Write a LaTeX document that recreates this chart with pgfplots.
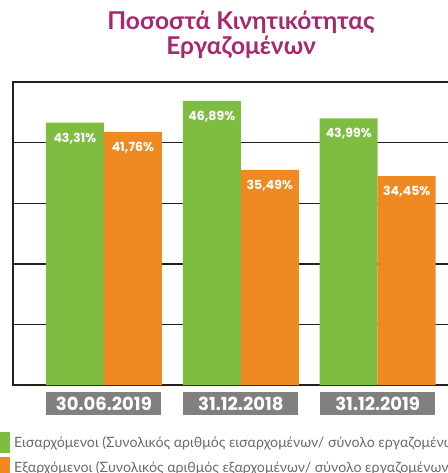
\documentclass[border=0pt]{standalone}
\usepackage{fontspec}
\setmainfont{Lato}
\newfontfamily\numfont{Poppins}
\usepackage{pgfplots}
\pgfplotsset{compat=1.18}
\definecolor{cgreen}{HTML}{7FBD42}
\definecolor{corange}{HTML}{EF8A22}
\definecolor{ctitle}{HTML}{A8276F}
\definecolor{cbox}{HTML}{808080}
\definecolor{clegend}{HTML}{6A6A6A}
\definecolor{cline}{HTML}{231F20}
\begin{document}
\begin{tikzpicture}[x=1pt,y=1pt]
\begin{axis}[
  scale only axis, width=440pt, height=303pt,
  xmin=-0.664, xmax=2.55, ymin=0, ymax=50,
  ybar=0pt, bar width=58pt,
  xtick={0,1,2}, xticklabels={30.06.2019,31.12.2018,31.12.2019},
  ytick={10,20,30,40}, yticklabels={},
  ymajorgrids, grid style={cline, line width=1.4pt},
  major tick length=0pt,
  axis line style={cline, line width=1.8pt},
  xticklabel style={fill=cbox, text=white, font=\numfont\bfseries\fontsize{18}{18}\selectfont,
    minimum width=115pt, minimum height=23pt, inner sep=0pt, anchor=north, yshift=-7pt},
  nodes near coords={\pgfmathprintnumber[fixed,precision=2,fixed zerofill,use comma,assume math mode=true]{\pgfplotspointmeta}\%},
  every node near coord/.append style={anchor=north, inner sep=0pt, yshift=-10pt, text=white,
    font=\numfont\bfseries\fontsize{12.5}{13}\selectfont},
  legend style={at={(-0.0545,-0.155)}, anchor=north west, draw=none, fill=none,
    inner sep=0pt, font=\fontsize{14.2}{15}\selectfont, text=clegend, row sep=4pt,
    nodes={inner sep=0pt}, cells={anchor=west}},
  legend image code/.code={\fill[#1] (0pt,-10.5pt) rectangle (21pt,10.5pt); \path (25pt,0pt);},
]
\addplot[fill=cgreen, draw=none] coordinates {(0,43.31) (1,46.89) (2,43.99)};
\addlegendentry{Εισαρχόμενοι (Συνολικός αριθμός εισαρχομένων/ σύνολο εργαζομένων)}
\addplot[fill=corange, draw=none] coordinates {(0,41.76) (1,35.49) (2,34.45)};
\addlegendentry{Εξαρχόμενοι (Συνολικός αριθμός εξαρχομένων/ σύνολο εργαζομένων)}
\coordinate (BL) at (rel axis cs:0,0);
\end{axis}
\node[font=\bfseries\fontsize{24.5}{25}\selectfont, text=ctitle, align=center] at ([shift={(228,350)}]BL)
  {Ποσοστά Κινητικότητας\\Εργαζομένων};
\pgfresetboundingbox
\useasboundingbox ([shift={(-13,-88)}]BL) rectangle ([shift={(434,385)}]BL);
\end{tikzpicture}
\end{document}
